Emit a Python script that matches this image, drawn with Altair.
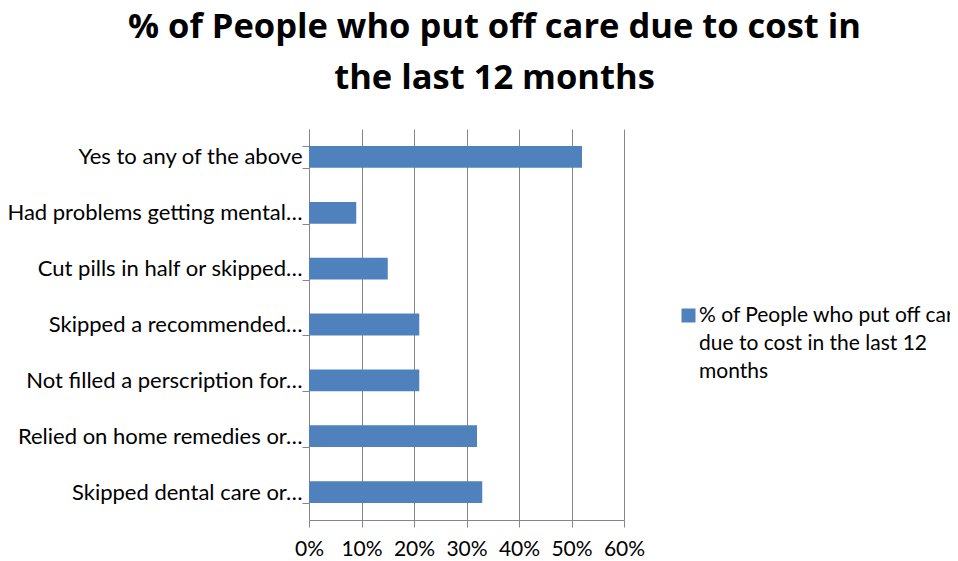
import json
import altair as alt
import pandas as pd

NBSP = "\u00a0"

categories = [
    "Yes to any of the above" + NBSP * 3,
    "Had problems getting mental…",
    "Cut pills in half or skipped…",
    "Skipped a recommended…",
    "Not filled a perscription for…",
    "Relied on home remedies or…",
    "Skipped dental care or…",
]
values = [0.52, 0.09, 0.15, 0.21, 0.21, 0.32, 0.33]
series_name = "% of People who put off care due to cost in the last 12 months"
legend_lines = ["% of People who put off care", "due to cost in the last 12", "months"]
title_lines = ["% of People who put off care due to cost in", "the last 12 months"]
x_ticks = [0, 0.1, 0.2, 0.3, 0.4, 0.5, 0.6]

df = pd.DataFrame({"category": categories, "value": values, "series": series_name})

label_expr = "[" + ", ".join(json.dumps(s) for s in legend_lines) + "]"

GRAY = "#868686"
FONT = "Lato"
# square symbol raised a little so it sits level with the first label line
SQUARE_UP = "M-1,-1.857H1V0.143H-1Z"

chart = (
    alt.Chart(df)
    .mark_bar()
    .encode(
        y=alt.Y(
            "category:N",
            sort=categories,
            title=None,
            scale=alt.Scale(paddingInner=0.61, paddingOuter=0.305),
            axis=alt.Axis(
                tickBand="extent",
                tickSize=7,
                labelPadding=0,
                labelFont=FONT,
                labelColor="black",
                labelFontSize=22,
                labelLimit=400,
                grid=False,
                domainColor=GRAY,
                tickColor=GRAY,
            ),
        ),
        x=alt.X(
            "value:Q",
            title=None,
            scale=alt.Scale(domain=[0, 0.6]),
            axis=alt.Axis(
                values=x_ticks,
                format=".0%",
                tickSize=7,
                labelPadding=11,
                labelFont=FONT,
                labelColor="black",
                labelFontSize=21,
                labelOverlap=False,
                labelFlush=False,
                grid=True,
                gridColor=GRAY,
                domainColor=GRAY,
                tickColor=GRAY,
            ),
        ),
        color=alt.Color(
            "series:N",
            scale=alt.Scale(range=["#4F81BD"]),
            legend=alt.Legend(
                title=None,
                orient="none",
                legendX=369,
                legendY=182,
                labelExpr=label_expr,
                labelLimit=2000,
                labelFontSize=21,
                labelFont=FONT,
                labelColor="black",
                labelBaseline="alphabetic",
                symbolType=SQUARE_UP,
                symbolSize=196,
                symbolStrokeWidth=0,
                labelOffset=0,
            ),
        ),
    )
    .properties(
        width=315,
        height=391,
        autosize=alt.AutoSizeParams(type="none"),
        padding={"left": 301, "top": 121, "right": 326, "bottom": 42},
        title=alt.TitleParams(
            text=title_lines,
            font="Open Sans",
            fontSize=34.5,
            fontWeight="bold",
            color="black",
            anchor="middle",
            frame="group",
            dx=28,
            offset=-12,
            lineHeight=51,
            baseline="bottom",
        ),
    )
    .configure(
        view=alt.ViewConfig(strokeWidth=0),
        style={"guide-label": {"lineHeight": 28}},
    )
)

chart.save("out.html", embed_options={"renderer": "svg", "actions": False})
